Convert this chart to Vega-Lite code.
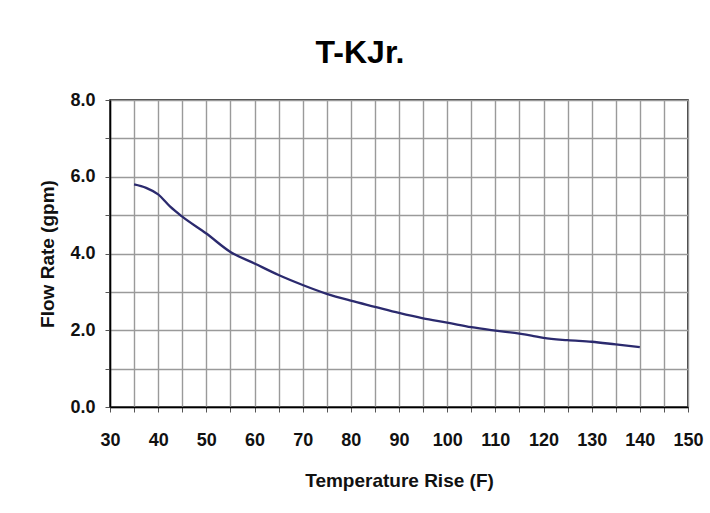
{
  "$schema": "https://vega.github.io/schema/vega-lite/v6.json",
  "autosize": "none",
  "width": 578,
  "height": 307,
  "padding": {"left": 110, "top": 100, "right": 22, "bottom": 106},
  "background": "white",
  "title": {
    "text": "T-KJr.",
    "font": "Liberation Sans",
    "fontSize": 32,
    "fontWeight": "bold",
    "color": "#000000",
    "anchor": "middle",
    "dx": -39,
    "offset": 21
  },
  "config": {
    "view": {"stroke": "#000000", "strokeWidth": 1.5},
    "axis": {
      "labelFont": "Liberation Sans",
      "labelFontSize": 18,
      "labelFontWeight": "bold",
      "labelColor": "#111111",
      "titleFont": "Liberation Sans",
      "titleFontSize": 19,
      "titleFontWeight": "bold",
      "titleColor": "#111111",
      "gridColor": "#9a9a9a",
      "gridWidth": 1.4,
      "gridOpacity": 1,
      "domainColor": "#000000",
      "domainWidth": 1.5,
      "tickColor": "#555555",
      "tickSize": 5
    }
  },
  "data": {
    "values": [
      {"rise": 35, "flow": 5.80},
      {"rise": 37.5, "flow": 5.71},
      {"rise": 40, "flow": 5.54},
      {"rise": 42.5, "flow": 5.22},
      {"rise": 45, "flow": 4.96},
      {"rise": 50, "flow": 4.52},
      {"rise": 55, "flow": 4.04},
      {"rise": 60, "flow": 3.74},
      {"rise": 65, "flow": 3.44},
      {"rise": 70, "flow": 3.18},
      {"rise": 75, "flow": 2.95},
      {"rise": 80, "flow": 2.77},
      {"rise": 85, "flow": 2.61},
      {"rise": 90, "flow": 2.45},
      {"rise": 95, "flow": 2.31},
      {"rise": 100, "flow": 2.20},
      {"rise": 105, "flow": 2.08},
      {"rise": 110, "flow": 1.99},
      {"rise": 115, "flow": 1.91},
      {"rise": 117.5, "flow": 1.86},
      {"rise": 120, "flow": 1.80},
      {"rise": 125, "flow": 1.74},
      {"rise": 130, "flow": 1.70},
      {"rise": 135, "flow": 1.63},
      {"rise": 140, "flow": 1.56}
    ]
  },
  "mark": {"type": "line", "color": "#2b2a6e", "strokeWidth": 2.3, "interpolate": "monotone"},
  "encoding": {
    "x": {
      "field": "rise",
      "type": "quantitative",
      "scale": {"domain": [30, 150], "nice": false, "zero": false},
      "axis": {
        "title": "Temperature Rise (F)",
        "titlePadding": 22,
        "values": [30,35,40,45,50,55,60,65,70,75,80,85,90,95,100,105,110,115,120,125,130,135,140,145,150],
        "labelExpr": "datum.value % 10 === 0 ? datum.label : ''",
        "labelPadding": 19,
        "labelFlush": false,
        "labelOverlap": false
      }
    },
    "y": {
      "field": "flow",
      "type": "quantitative",
      "scale": {"domain": [0, 8], "nice": false},
      "axis": {
        "title": "Flow Rate (gpm)",
        "titlePadding": 12,
        "values": [0,1,2,3,4,5,6,7,8],
        "format": ".1f",
        "labelExpr": "datum.value % 2 === 0 ? datum.label : ''",
        "labelPadding": 10,
        "labelOverlap": false
      }
    }
  }
}
